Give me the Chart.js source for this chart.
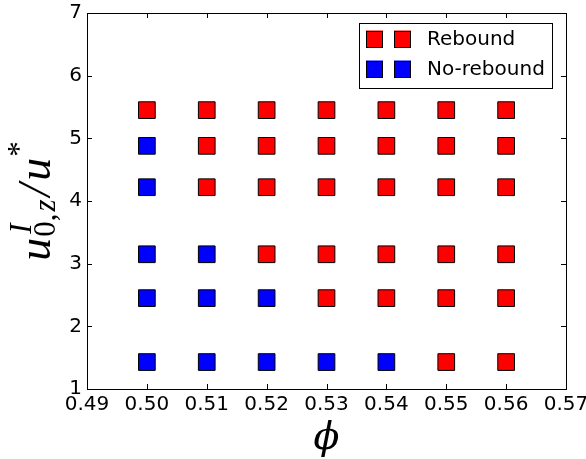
<!DOCTYPE html>
<html lang="en">
<head>
    <meta charset="UTF-8">
    <title>Rebound map</title>
    <script src="https://cdn.jsdelivr.net/npm/chart.js"></script>
    <style>
        * {
            box-sizing: border-box;
            margin: 0;
            padding: 0;
        }

        body {
            background-color: #fff;
        }

        .chart-box {
            width: 586px;
            height: 459px;
        }
    </style>
</head>
<body>
    <div class="chart-box">
        <canvas id="reboundChart"></canvas>
    </div>

    <script>
        // phi values (columns) and u0z/u* levels (rows, bottom to top)
        const phiValues = [0.50, 0.51, 0.52, 0.53, 0.54, 0.55, 0.56];
        const uLevels = [1.43, 2.45, 3.15, 4.22, 4.88, 5.45];
        // outcome per row, one letter per phi value: R = rebound, N = no rebound
        const rowOutcomes = [
            ['N', 'N', 'N', 'N', 'N', 'R', 'R'],
            ['N', 'N', 'N', 'R', 'R', 'R', 'R'],
            ['N', 'N', 'R', 'R', 'R', 'R', 'R'],
            ['N', 'R', 'R', 'R', 'R', 'R', 'R'],
            ['N', 'R', 'R', 'R', 'R', 'R', 'R'],
            ['R', 'R', 'R', 'R', 'R', 'R', 'R']
        ];
        const xTicks = [0.49, 0.50, 0.51, 0.52, 0.53, 0.54, 0.55, 0.56, 0.57];
        const yTicks = [1, 2, 3, 4, 5, 6, 7];
        const seriesNames = ['Rebound', 'No-rebound'];

        const reboundPts = [];
        const noReboundPts = [];
        uLevels.forEach((u, i) => {
            phiValues.forEach((phi, j) => {
                if (rowOutcomes[i][j] === 'R') reboundPts.push({ x: phi, y: u });
                else noReboundPts.push({ x: phi, y: u });
            });
        });

        const tickFont = '20px "DejaVu Sans"';

        // frame, inward ticks, legend and axis titles
        const decorations = {
            id: 'decorations',
            afterDraw(chart) {
                const ctx = chart.ctx;
                const a = chart.chartArea;
                const xs = chart.scales.x;
                const ys = chart.scales.y;
                ctx.save();
                ctx.strokeStyle = '#000';
                ctx.lineWidth = 1;
                ctx.strokeRect(Math.round(a.left) + 0.5, Math.round(a.top) + 0.5,
                    Math.round(a.right - a.left), Math.round(a.bottom - a.top));

                const tl = 5;
                ctx.beginPath();
                xTicks.forEach(v => {
                    const px = Math.round(xs.getPixelForValue(v)) + 0.5;
                    ctx.moveTo(px, a.bottom); ctx.lineTo(px, a.bottom - tl);
                    ctx.moveTo(px, a.top); ctx.lineTo(px, a.top + tl);
                });
                yTicks.forEach(v => {
                    const py = Math.round(ys.getPixelForValue(v)) + 0.5;
                    ctx.moveTo(a.left, py); ctx.lineTo(a.left + tl, py);
                    ctx.moveTo(a.right, py); ctx.lineTo(a.right - tl, py);
                });
                ctx.stroke();

                // legend with two markers per entry
                const lw = 193, lh = 65;
                const lx = a.right - 14 - lw, ly = a.top + 10;
                ctx.fillStyle = '#fff';
                ctx.fillRect(lx, ly, lw, lh);
                ctx.strokeRect(Math.round(lx) + 0.5, Math.round(ly) + 0.5, lw, lh);
                const colors = ['#ff0000', '#0000ff'];
                ctx.font = tickFont;
                ctx.textBaseline = 'middle';
                seriesNames.forEach((name, i) => {
                    const cy = ly + 16 + i * 30;
                    [lx + 15.5, lx + 43.5].forEach(cx => {
                        ctx.fillStyle = colors[i];
                        ctx.fillRect(cx - 8.5, cy - 8.5, 17, 17);
                        ctx.strokeRect(Math.round(cx - 8.5) + 0.5, Math.round(cy - 8.5) + 0.5, 16, 16);
                    });
                    ctx.fillStyle = '#000';
                    ctx.textAlign = 'left';
                    ctx.fillText(name, lx + 68, cy + 1);
                });

                // x title: phi
                ctx.font = 'italic 38px "DejaVu Serif"';
                ctx.textAlign = 'center';
                ctx.textBaseline = 'alphabetic';
                ctx.fillText('\u03d5', (a.left + a.right) / 2, 449);

                // y title: u^I_{0,z} / u^*
                const F = 46, S = 31;
                const main = 'italic ' + F + 'px "Liberation Serif"';
                const small = 'italic ' + S + 'px "Liberation Serif"';
                const upright = S + 'px "Liberation Serif"';
                const parts = [
                    { t: 'u', f: main, dy: 0 },
                    { t: 'I', f: small, dy: -0.42 * F, sup: true },
                    { t: '0,', f: upright, dy: 0.1 * F, gap: 1 },
                    { t: 'z', f: small, dy: 0.1 * F, gap: 1 },
                    { t: '/', f: main, dy: 0, gap: 2 },
                    { t: 'u', f: main, dy: 0, gap: 1 },
                    { t: '*', f: upright, dy: -0.45 * F }
                ];
                ctx.textAlign = 'left';
                let total = 0;
                parts.forEach(p => {
                    ctx.font = p.f;
                    p.w = ctx.measureText(p.t).width;
                });
                // the superscript I sits above the subscript, so it takes no width of its own
                parts.forEach(p => { if (!p.sup) total += p.w + (p.gap || 0) * 2; });
                ctx.translate(50, (a.top + a.bottom) / 2);
                ctx.rotate(-Math.PI / 2);
                let x = -total / 2;
                parts.forEach(p => {
                    ctx.font = p.f;
                    x += p.gap || 0;
                    ctx.fillText(p.t, p.sup ? x + 4 : x, p.dy);
                    if (!p.sup) x += p.w + (p.gap || 0);
                });
                ctx.restore();
            }
        };

        new Chart(document.getElementById('reboundChart'), {
            type: 'scatter',
            data: {
                datasets: [{
                    label: seriesNames[0],
                    data: reboundPts,
                    backgroundColor: '#ff0000',
                    borderColor: '#000',
                    borderWidth: 1,
                    pointStyle: 'rect',
                    pointRadius: 11.8,
                    pointHoverRadius: 11.8
                }, {
                    label: seriesNames[1],
                    data: noReboundPts,
                    backgroundColor: '#0000ff',
                    borderColor: '#000',
                    borderWidth: 1,
                    pointStyle: 'rect',
                    pointRadius: 11.8,
                    pointHoverRadius: 11.8
                }]
            },
            options: {
                responsive: true,
                maintainAspectRatio: false,
                animation: false,
                layout: { padding: { top: 13, right: 20, left: 0, bottom: 0 } },
                plugins: {
                    legend: { display: false },
                    tooltip: { enabled: false }
                },
                scales: {
                    x: {
                        type: 'linear',
                        min: xTicks[0],
                        max: xTicks[xTicks.length - 1],
                        afterBuildTicks: s => { s.ticks = xTicks.map(v => ({ value: v })); },
                        afterFit: s => { s.height = 70; s.paddingLeft = 0; s.paddingRight = 0; },
                        grid: { display: false, drawTicks: false },
                        border: { display: false },
                        ticks: {
                            color: '#000',
                            font: { family: 'DejaVu Sans', size: 20 },
                            padding: 4,
                            maxRotation: 0,
                            autoSkip: false,
                            callback: v => v.toFixed(2)
                        }
                    },
                    y: {
                        type: 'linear',
                        min: yTicks[0],
                        max: yTicks[yTicks.length - 1],
                        afterBuildTicks: s => { s.ticks = yTicks.map(v => ({ value: v })); },
                        afterFit: s => { s.width = 87; s.paddingTop = 0; s.paddingBottom = 0; },
                        grid: { display: false, drawTicks: false },
                        border: { display: false },
                        ticks: {
                            color: '#000',
                            font: { family: 'DejaVu Sans', size: 20 },
                            padding: 5,
                            autoSkip: false,
                            callback: v => String(v)
                        }
                    }
                }
            },
            plugins: [decorations]
        });
    </script>
</body>
</html>
